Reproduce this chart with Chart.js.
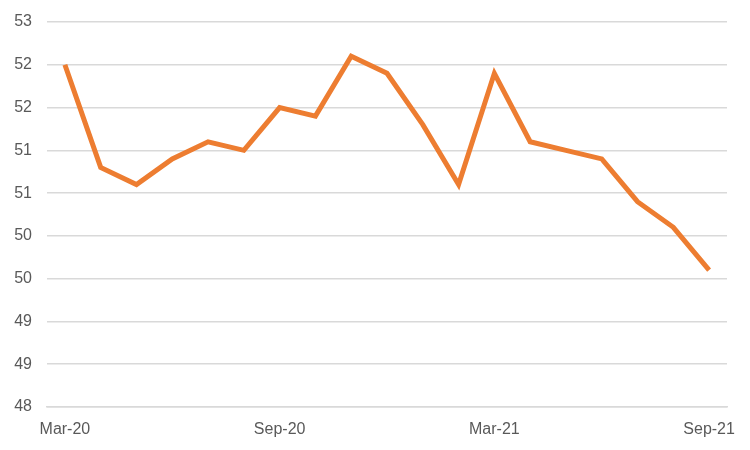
<!DOCTYPE html>
<html>
<head>
<meta charset="utf-8">
<script src="https://cdn.jsdelivr.net/npm/chart.js@4"></script>
<style>
  html, body { margin: 0; padding: 0; background: #ffffff; }
  #wrap { width: 750px; height: 450px; position: relative; }
</style>
</head>
<body>
<div id="wrap"><canvas id="c" width="750" height="450"></canvas></div>
<script>
const categories = ['Mar-20','Apr-20','May-20','Jun-20','Jul-20','Aug-20','Sep-20','Oct-20','Nov-20','Dec-20',
                    'Jan-21','Feb-21','Mar-21','Apr-21','May-21','Jun-21','Jul-21','Aug-21','Sep-21'];
const values = [52.0, 50.8, 50.6, 50.9, 51.1, 51.0, 51.5, 51.4, 52.1, 51.9,
                51.3, 50.6, 51.9, 51.1, 51.0, 50.9, 50.4, 50.1, 49.6];
const xTickLabels = ['Mar-20','Sep-20','Mar-21','Sep-21'];
const yMin = 48, yMax = 52.5, yStep = 0.5;

const font = { family: '"Liberation Sans", Arial, sans-serif', size: 16 };
const tickColor = '#595959';
const gridColor = '#d9d9d9';

new Chart(document.getElementById('c'), {
  type: 'line',
  data: {
    labels: categories,
    datasets: [{
      data: values,
      borderColor: '#ED7D31',
      borderWidth: 5,
      pointRadius: 0,
      tension: 0,
      fill: false
    }]
  },
  options: {
    responsive: false,
    animation: false,
    layout: { padding: { left: 0, right: 23, top: 22, bottom: 0 } },
    plugins: { legend: { display: false }, tooltip: { enabled: false } },
    scales: {
      x: {
        offset: true,
        grid: { display: false, drawTicks: false },
        border: { display: true, color: gridColor, width: 1.5 },
        ticks: {
          autoSkip: false,
          maxRotation: 0,
          padding: 13,
          color: tickColor,
          font: font,
          callback: function(v, i) {
            const l = categories[i];
            return xTickLabels.includes(l) ? l : '';
          }
        },
        afterFit: s => { s.height = 43; s.paddingLeft = 0; s.paddingRight = 0; }
      },
      y: {
        min: yMin, max: yMax,
        grid: { color: gridColor, lineWidth: 1.5, drawTicks: false },
        border: { display: false },
        ticks: {
          stepSize: yStep,
          padding: 15,
          color: tickColor,
          font: font,
          callback: v => String(Math.round(v))
        },
        afterFit: s => { s.width = 47; s.paddingTop = 0; s.paddingBottom = 0; }
      }
    }
  }
});
</script>
</body>
</html>
